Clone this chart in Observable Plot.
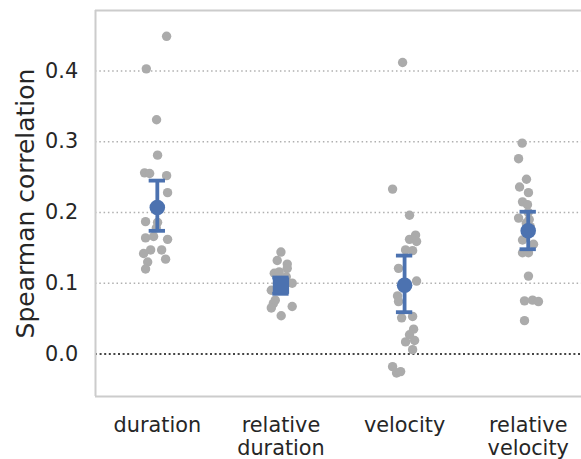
<!DOCTYPE html>
<html>
<head>
<meta charset="utf-8">
<script src="https://cdn.jsdelivr.net/npm/d3@7"></script>
<script src="https://cdn.jsdelivr.net/npm/@observablehq/plot@0.6"></script>
<style>
  html, body { margin: 0; padding: 0; background: #fff; }
  #chart svg { display: block; }
</style>
</head>
<body>
<div id="chart"></div>
<script>
// ---- data ----
const categories = ["duration", "relative\nduration", "velocity", "relative\nvelocity"];
const yTicks = [0, 0.1, 0.2, 0.3, 0.4];
const yLabel = "Spearman correlation";

const durationValues = [0.449,0.403,0.331,0.281,0.256,0.255,0.252,0.228,0.187,0.186,0.164,0.166,0.162,0.147,0.142,0.147,0.130,0.134,0.120,0.205,0.178];
const durationJitter = [0.075,-0.089,-0.006,0.002,-0.103,-0.062,0.075,0.083,-0.095,0.002,-0.095,-0.030,0.083,-0.054,-0.111,0.035,-0.078,0.067,-0.095,0.016,-0.008];

const relDurationValues = [0.144,0.132,0.127,0.121,0.114,0.116,0.109,0.100,0.090,0.076,0.071,0.065,0.067,0.054,0.093,0.095,0.097,0.099,0.100,0.094,0.096,0.098];
const relDurationJitter = [0,-0.030,0.051,0.051,-0.054,-0.014,0.043,0.091,-0.078,-0.046,-0.062,-0.078,0.091,0.002,-0.016,0.008,-0.008,0.016,0,0.024,-0.024,0];

const velocityValues = [0.412,0.233,0.196,0.168,0.162,0.159,0.147,0.146,0.121,0.103,0.082,0.074,0.051,0.053,0.035,0.027,0.017,0.019,0.006,-0.018,-0.027,-0.025];
const velocityJitter = [-0.016,-0.097,0.040,0.089,0.040,0.097,0.008,0.065,-0.049,0.097,-0.057,-0.049,-0.024,0.065,0.073,0.040,0.008,0.081,0.065,-0.097,-0.065,-0.032];

const relVelocityValues = [0.298,0.276,0.247,0.236,0.228,0.215,0.211,0.192,0.161,0.155,0.143,0.143,0.110,0.075,0.076,0.074,0.047,0.190,0.185,0.180,0.200,0.172];
const relVelocityJitter = [-0.049,-0.078,-0.014,-0.070,0.002,-0.046,-0.006,-0.078,-0.046,0.043,-0.046,0.002,0.002,-0.030,0.035,0.083,-0.030,0.008,-0.016,0.016,0,0.008];

const means  = [0.207, 0.0965, 0.097, 0.174];
const ciLow  = [0.174, 0.085, 0.059, 0.148];
const ciHigh = [0.245, 0.108, 0.139, 0.201];
const markers = ["circle", "square", "circle", "circle"];

// ---- build tables ----
const seriesValues = [durationValues, relDurationValues, velocityValues, relVelocityValues];
const seriesJitter = [durationJitter, relDurationJitter, velocityJitter, relVelocityJitter];
const points = [];
seriesValues.forEach((vals, i) => vals.forEach((v, k) => points.push({i, x: i + seriesJitter[i][k], v})));
const summary = categories.map((c, i) => ({i, m: means[i], lo: ciLow[i], hi: ciHigh[i], marker: markers[i]}));

const blue = "#4c72b0";
const cap = 0.066;

const chart = Plot.plot({
  width: 581,
  height: 459,
  marginLeft: 95,
  marginRight: 0,
  marginTop: 10,
  marginBottom: 63,
  x: {type: "linear", domain: [-0.5, 3.431]},
  y: {domain: [-0.0602, 0.4855]},
  style: {fontFamily: "DejaVu Sans", fontSize: "21px", color: "#262626", background: "white"},
  marks: [
    Plot.ruleY(yTicks.filter(t => t !== 0), {stroke: "#b0b0b0", strokeWidth: 1.5, strokeDasharray: "1.5,2.8"}),
    Plot.ruleY([0], {stroke: "#454545", strokeWidth: 2, strokeDasharray: "2,2.6"}),
    Plot.ruleX([-0.5], {stroke: "#cccccc", strokeWidth: 2}),
    Plot.ruleY([-0.0602, 0.4855], {stroke: "#cccccc", strokeWidth: 2}),
    Plot.dot(points, {x: "x", y: "v", r: 4.7, fill: "#ababab"}),
    Plot.ruleX(summary, {x: "i", y1: "lo", y2: "hi", stroke: blue, strokeWidth: 3.8}),
    Plot.ruleY(summary, {y: "lo", x1: d => d.i - cap, x2: d => d.i + cap, stroke: blue, strokeWidth: 3.8}),
    Plot.ruleY(summary, {y: "hi", x1: d => d.i - cap, x2: d => d.i + cap, stroke: blue, strokeWidth: 3.8}),
    Plot.dot(summary.filter(d => d.marker === "circle"), {x: "i", y: "m", r: 7.8, fill: blue}),
    Plot.dot(summary.filter(d => d.marker === "square"), {x: "i", y: "m", r: 9.2, symbol: "square", fill: blue}),
    Plot.axisY({ticks: yTicks, tickFormat: ".1f", tickSize: 0, tickPadding: 17.3, fontSize: 20.8, label: null}),
    Plot.axisX({ticks: [0, 1, 2, 3], tickFormat: i => categories[i], tickSize: 0, tickPadding: 19.2, fontSize: 20.8, lineHeight: 1.106, label: null}),
    Plot.text([yLabel], {frameAnchor: "left", textAnchor: "middle", rotate: -90, dx: -70, fontSize: 25, fill: "#262626"})
  ]
});
document.getElementById("chart").appendChild(chart);
</script>
</body>
</html>
